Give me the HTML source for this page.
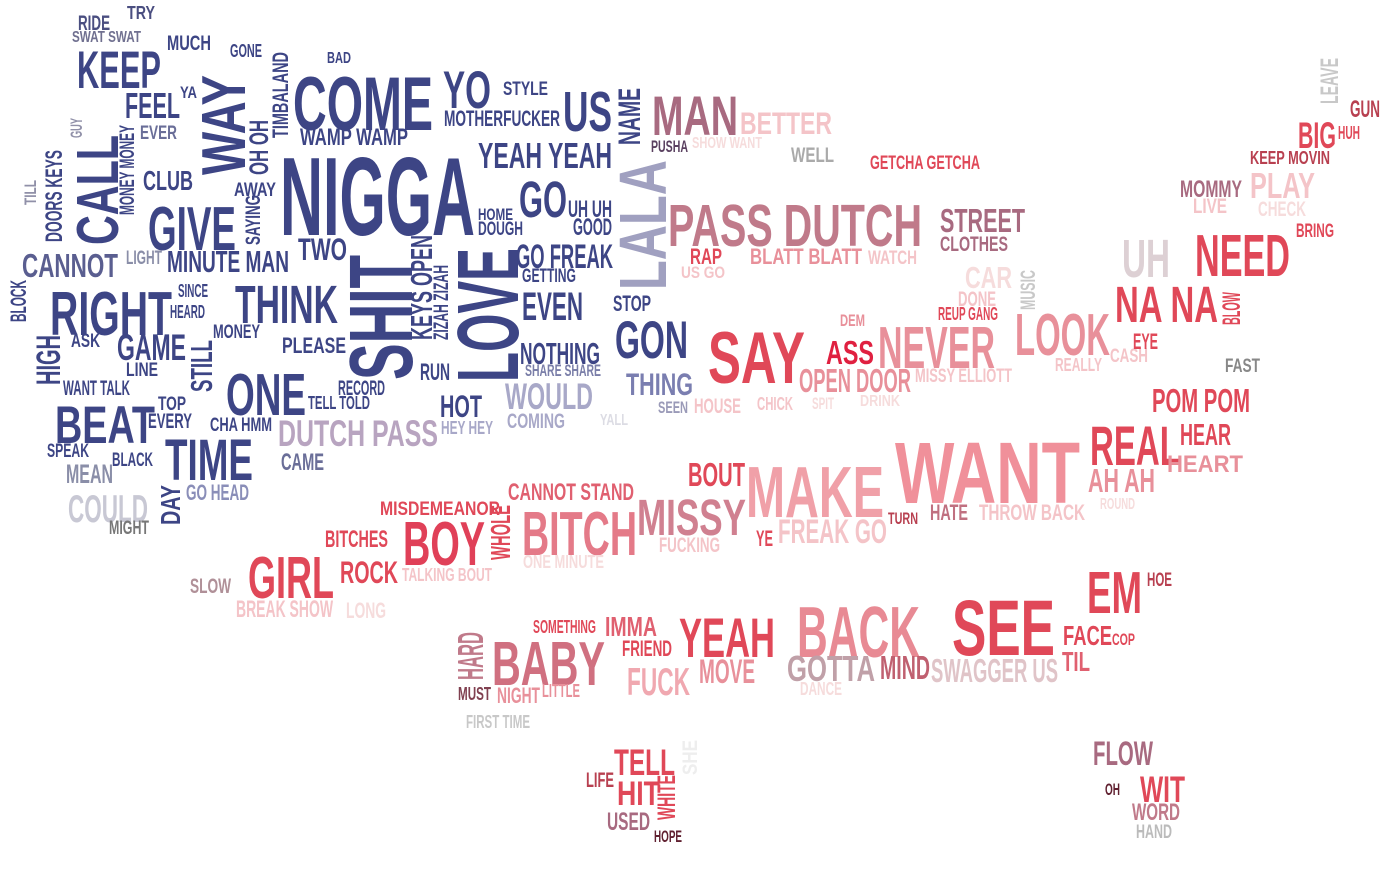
<!DOCTYPE html>
<html><head><meta charset="utf-8">
<style>
html,body{margin:0;padding:0;background:#fff;}
svg{display:block;}
text{font-family:"Liberation Sans Narrow","Liberation Sans",sans-serif;font-weight:bold;}
</style></head>
<body>
<svg id="cloud" width="1395" height="877" viewBox="0 0 1395 877" xmlns="http://www.w3.org/2000/svg"></svg>
<script>
var N='#3d4585',N2='#4a4e80',LV='#a8a8c8',LG='#c8c8d4',GR='#aaaaaa',
P='#f0a0a8',P2='#e8909a',LP='#f4c4c8',VL='#f6dcdc',R='#e04858',DR='#b84050',M='#a86a80',MP='#c07a8a';
// [word, x0, y0, x1, y1, color, vertical]
var words=[
['RIDE',78,15,110,30,N2],['TRY',127,6,155,19,N2],['SWAT SWAT',72,31,141,42,'#707090'],['MUCH',167,35,211,50,N],
['GONE',230,44,262,57,N],['BAD',327,52,351,63,N],['KEEP',77,50,161,88,N],['FEEL',125,92,180,118,N],['YA',180,86,197,98,N],
['WAY',200,75,245,175,N,1],['TIMBALAND',272,52,288,138,N,1],['OH OH',249,120,268,175,N,1],['COME',293,75,433,130,N],
['YO',443,70,491,108,N],['STYLE',503,81,548,95,N],['MOTHERFUCKER',444,110,560,126,N],['US',563,90,612,131,N],
['NAME',617,88,640,145,N,1],['WAMP WAMP',300,128,408,145,N],['GUY',70,118,82,138,'#9090a8',1],['EVER',140,125,177,139,'#6a6e98'],
['MONEY MONEY',119,125,134,215,N,1],['CALL',75,135,118,245,N,1],['DOORS KEYS',45,150,62,242,N,1],['TILL',24,180,36,205,'#9090a8',1],
['CLUB',143,170,193,190,N],['AWAY',234,182,276,196,N],['SAYING',245,195,260,245,N,1],['NIGGA',280,155,475,235,N],
['YEAH YEAH',478,142,612,168,N],['GO',519,180,567,217,N],['UH UH',568,200,612,217,N],['HOME',478,208,513,220,N],
['DOUGH',478,221,523,235,N],['GOOD',573,218,612,235,N],['GIVE',148,205,236,250,N],['TWO',298,237,347,260,N],
['LIGHT',126,250,162,264,'#8a8ea8'],['MINUTE MAN',167,250,289,272,N],['CANNOT',22,253,118,277,'#5a5e90'],['GO FREAK',516,243,613,268,N],
['GETTING',522,268,576,282,N],['SHIT',347,255,412,380,N,1],['KEYS OPEN',410,235,432,340,N,1],['ZIZAH ZIZAH',433,265,448,340,N,1],
['LOVE',455,248,518,382,N,1],['LALA',618,160,666,290,'#a0a0c0',1],['RIGHT',50,290,172,335,N],['SINCE',178,284,208,297,N],
['HEARD',170,305,205,318,N],['THINK',235,284,338,323,N],['BLOCK',10,280,26,322,N,1],['MONEY',213,324,260,338,N],
['EVEN',522,291,583,320,N],['STOP',613,295,651,311,N],['GON',615,320,688,358,N],['HIGH',35,335,60,385,N,1],['ASK',71,333,100,347,N],
['GAME',117,333,186,360,N],['LINE',126,362,158,376,N],['STILL',190,340,212,392,N,1],['PLEASE',282,337,346,353,N],
['NOTHING',520,342,600,364,N],['SHARE SHARE',525,364,601,376,'#7a7ea8'],['THING',626,372,693,395,'#7a7eb0'],['RUN',420,363,450,380,N],
['WANT TALK',63,380,130,395,N],['ONE',226,372,306,415,N],['RECORD',338,380,385,395,N],['TELL TOLD',308,396,370,409,N],
['HOT',440,394,482,417,N],['WOULD',505,382,593,409,LV],['TOP',158,396,186,410,N],['BEAT',55,405,155,443,N],['EVERY',148,413,192,428,N],
['CHA HMM',210,417,272,431,N],['DUTCH PASS',278,419,438,446,'#b8a4c0'],['HEY HEY',441,421,493,434,LV],['COMING',507,413,565,428,LV],
['YALL',600,414,628,425,'#dcdce4'],['SEEN',658,401,688,413,'#9a9ab8'],['HOUSE',694,398,741,413,LP],['CHICK',757,397,793,410,LP],
['SPIT',812,397,834,409,VL],['DRINK',860,395,900,406,VL],['SPEAK',47,443,89,457,N],['BLACK',112,452,153,466,N],['TIME',165,438,253,480,N],
['CAME',281,453,324,470,'#6a6e98'],['MEAN',66,464,113,483,'#8a8ea8'],['GO HEAD',186,484,249,500,'#8a8eb8'],['COULD',68,494,148,522,LG],
['DAY',160,485,180,525,N,1],['MIGHT',109,520,149,534,'#777'],
['MAN',652,95,738,135,M],['BETTER',740,111,832,134,LP],['PUSHA',651,140,688,152,'#5a4060'],['SHOW WANT',692,137,762,148,VL],
['WELL',791,147,834,162,GR],['GETCHA GETCHA',870,155,980,169,R],['PASS DUTCH',668,203,922,246,MP],['STREET',940,208,1025,232,M],
['CLOTHES',940,236,1008,251,M],['RAP',690,248,722,264,R],['BLATT BLATT',750,248,862,264,P2],['WATCH',868,250,917,264,LP],
['US GO',681,266,725,278,LP],['CAR',965,266,1012,288,VL],['MUSIC',1020,270,1035,310,'#c8c8c8',1],['DONE',958,291,996,306,LP],
['REUP GANG',938,307,998,320,R],['DEM',840,314,865,326,P2],['SAY',708,330,805,383,R],['ASS',826,340,874,364,'#e02040'],
['NEVER',878,325,995,368,P2],['LOOK',1015,312,1110,355,P2],['OPEN DOOR',799,368,911,392,P2],['MISSY ELLIOTT',915,368,1012,382,LP],
['REALLY',1055,358,1102,371,LP],['CASH',1110,348,1148,362,LP],['EYE',1133,333,1158,349,R],['BLOW',1222,292,1240,325,R,1],
['UH',1122,238,1170,277,'#ddd0d4'],['NEED',1195,233,1290,276,R],['NA NA',1115,285,1218,322,R],['FAST',1225,358,1260,372,'#888'],
['MOMMY',1180,180,1242,197,M],['PLAY',1250,172,1315,198,LP],['LIVE',1193,198,1227,213,LP],['CHECK',1258,201,1306,216,VL],
['BRING',1296,223,1334,237,R],['KEEP MOVIN',1250,151,1330,164,DR],['BIG',1298,121,1336,148,R],['HUH',1338,126,1360,139,R],
['GUN',1350,100,1380,117,DR],['LEAVE',1320,58,1338,104,'#c8c8c8',1],
['POM POM',1152,388,1250,412,R],['HEAR',1180,423,1231,445,R],['REAL',1090,425,1180,465,R],['HEART',1167,455,1243,472,P2],
['AH AH',1088,468,1155,492,P2],['ROUND',1100,498,1135,509,VL],['WANT',895,440,1080,503,'#f0909a'],['MAKE',746,465,884,517,P],
['BOUT',688,462,745,486,R],['CANNOT STAND',508,483,634,500,'#e06070'],['MISDEMEANOR',380,501,500,515,R],['WHOLE',490,505,510,560,R,1],
['MISSY',637,498,746,535,'#d08090'],['TURN',888,512,918,524,DR],['HATE',930,504,968,520,'#c07080'],['THROW BACK',979,504,1085,520,LP],
['BITCHES',325,530,388,547,R],['BOY',403,520,485,565,'#e04058'],['BITCH',522,510,637,555,'#e47a88'],['FUCKING',659,537,720,552,LP],
['YE',756,530,773,546,R],['FREAK GO',778,518,887,543,LP],['ONE MINUTE',523,555,604,568,VL],['GIRL',248,555,334,598,R],
['ROCK',340,560,398,583,R],['TALKING BOUT',402,568,492,581,LP],['SLOW',190,578,231,593,'#b09098'],['BREAK SHOW',236,600,333,617,LP],
['LONG',346,602,386,618,VL],['EM',1087,570,1142,613,R],['HOE',1147,572,1172,586,DR],['SOMETHING',533,620,596,633,R],
['IMMA',605,616,657,636,'#e06070'],['FRIEND',622,640,672,656,R],['YEAH',679,617,775,657,R],['BACK',797,605,920,657,'#e88a94'],
['SEE',952,598,1055,655,R],['FACE',1063,625,1112,645,R],['COP',1112,633,1135,645,R],['TIL',1062,651,1090,671,'#e06070'],
['HARD',457,632,483,680,'#c07a8a',1],['BABY',492,640,605,685,'#d07080'],['MUST',458,687,491,700,'#804050'],['NIGHT',497,687,540,703,P2],
['LITTLE',542,684,580,697,P2],['FUCK',627,667,690,695,'#f0a8b0'],['MOVE',699,658,755,683,P2],['GOTTA',787,655,875,681,'#c0a0a8'],
['MIND',880,655,930,679,'#c06070'],['SWAGGER US',931,658,1058,682,'#e0c4c8'],['DANCE',800,682,842,695,VL],['FIRST TIME',466,715,530,728,'#c8c8c8'],
['TELL',614,748,675,775,R],['SHE',682,740,697,775,'#eeeeee',1],['LIFE',586,772,614,787,DR],['HIT',617,780,660,805,R],
['WHITE',657,775,675,820,R,1],['USED',607,812,650,830,M],['HOPE',654,830,682,842,'#602030'],['FLOW',1093,740,1153,765,M],
['OH',1105,783,1120,795,'#602030'],['WIT',1140,775,1185,802,R],['WORD',1132,803,1180,820,'#c07a8a'],['HAND',1136,824,1172,838,'#bbb']
];
var svg=document.getElementById('cloud');
var NS='http://www.w3.org/2000/svg';
words.forEach(function(w){
  var t=document.createElementNS(NS,'text');
  var x0=w[1],y0=w[2],x1=w[3],y1=w[4];
  var fs,len;
  if(w[6]){fs=(x1-x0)/0.72;len=y1-y0;t.setAttribute('transform','translate('+x1+','+y1+') rotate(-90)');t.setAttribute('x',0);t.setAttribute('y',0);}
  else{fs=(y1-y0)/0.72;len=x1-x0;t.setAttribute('x',x0);t.setAttribute('y',y1);}
  t.setAttribute('font-size',fs.toFixed(1));
  t.setAttribute('textLength',len);
  t.setAttribute('lengthAdjust','spacingAndGlyphs');
  t.setAttribute('fill',w[5]);
  t.textContent=w[0];
  
  
  svg.appendChild(t);
});
</script>
</body></html>
